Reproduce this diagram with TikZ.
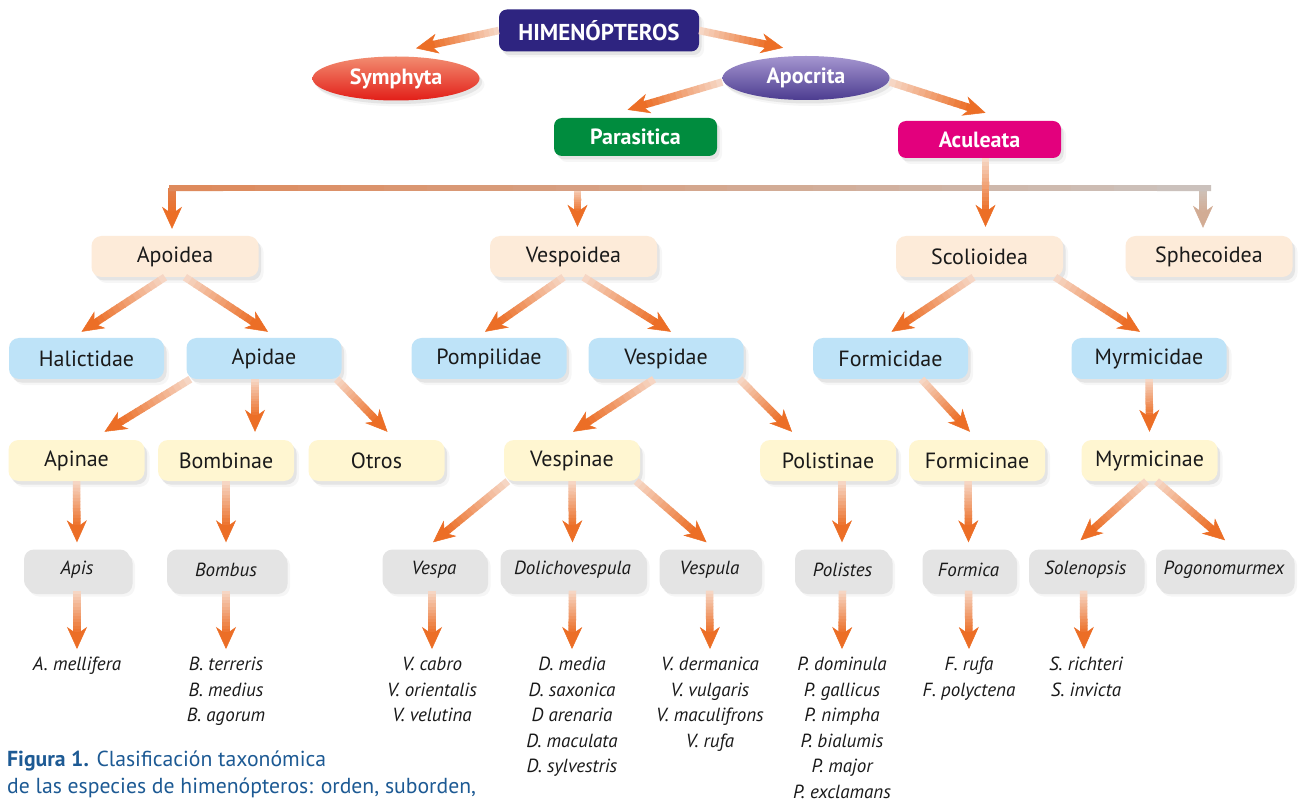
\documentclass[tikz,border=0pt]{standalone}
\usepackage{fontspec}
\setmainfont{PT Sans}
\usetikzlibrary{arrows.meta,calc,shadows,shapes.geometric}
\definecolor{txt}{RGB}{26,26,26}
\definecolor{navy}{RGB}{46,36,128}
\definecolor{symtop}{RGB}{242,140,112}
\definecolor{symbot}{RGB}{226,30,24}
\definecolor{apotop}{RGB}{165,150,208}
\definecolor{apobot}{RGB}{76,60,144}
\definecolor{paragreen}{RGB}{0,140,62}
\definecolor{aculmag}{RGB}{227,0,125}
\definecolor{cream}{RGB}{253,235,217}
\definecolor{lblue}{RGB}{190,227,248}
\definecolor{lyellow}{RGB}{255,246,209}
\definecolor{lgray}{RGB}{228,228,228}
\definecolor{arrlight}{RGB}{246,214,196}
\definecolor{arrorange}{RGB}{236,110,38}
\definecolor{barleft}{RGB}{222,138,92}
\definecolor{barright}{RGB}{203,193,188}
\definecolor{dropleft}{RGB}{226,128,76}
\definecolor{sphlight}{RGB}{206,194,186}
\definecolor{sphdark}{RGB}{210,172,148}
\definecolor{capblue}{RGB}{29,90,148}

\tikzset{
  sh/.style={drop shadow={shadow xshift=2.5pt,shadow yshift=-3.5pt,opacity=0.15},
             drop shadow={shadow xshift=5pt,shadow yshift=-6pt,opacity=0.07}},
  tbox/.style={sh, rounded corners=10pt, inner sep=0pt, minimum height=41pt, text=txt,
               font=\fontsize{22}{25}\selectfont},
  sfam/.style={tbox, fill=cream, minimum width=167pt},
  fam/.style={tbox, fill=lblue, minimum width=155pt},
  subfam/.style={tbox, fill=lyellow, minimum width=136pt},
  genus/.style={tbox, fill=lgray, font=\fontsize{19}{22}\selectfont\itshape},
  hdr/.style={sh, rounded corners=8pt, inner sep=0pt, text=white,
              font=\fontsize{22}{25}\selectfont\bfseries},
  ell/.style={sh, ellipse, inner sep=0pt, minimum width=167pt, minimum height=44pt,
              text=white, font=\fontsize{22}{25}\selectfont\bfseries},
  species/.style={inner sep=0pt, align=center, text=txt,
                  font=\fontsize{19}{25.5}\selectfont\itshape},
  caption/.style={inner sep=0pt, text=capblue, font=\fontsize{21.7}{27}\selectfont},
}

% gradient arrow: [start colour][end colour]{from}{to}
\NewDocumentCommand\garr{O{arrlight} O{arrorange} m m}{%
  \path #3 coordinate (ga-s);
  \path #4 coordinate (ga-e);
  \path ($(ga-e)!14pt!(ga-s)$) coordinate (ga-m);
  \foreach \i in {1,...,14}{%
    \pgfmathsetmacro\ga{(\i-1)/14}%
    \pgfmathsetmacro\gb{\i/14+0.01}%
    \pgfmathtruncatemacro\gm{round(100*(\i-1)/13)}%
    \draw[line width=7.5pt, #2!\gm!#1] ($(ga-s)!\ga!(ga-m)$) -- ($(ga-s)!\gb!(ga-m)$);
  }
  \draw[line width=0.5pt, #2, -{Stealth[length=22pt,width=20pt,inset=7pt]}] (ga-m) -- (ga-e);
}

\begin{document}
\begin{tikzpicture}[x=1pt,y=-1pt]
\useasboundingbox[fill=white] (0,0) rectangle (1299,802);

% ---------- top levels ----------
\node[hdr, fill=navy, minimum width=200pt, minimum height=42pt, font=\fontsize{23}{25}\selectfont\bfseries] (him) at (599,30.5) {HIMENÓPTEROS};
\node[ell, top color=symtop, bottom color=symbot] (sym) at (396,78.5) {Symphyta};
\node[ell, top color=apotop, bottom color=apobot] (apoc) at (806,78) {Apocrita};
\node[hdr, fill=paragreen, minimum width=163pt, minimum height=38pt] (para) at (635.5,137) {Parasitica};
\node[hdr, fill=aculmag, minimum width=163pt, minimum height=37pt] (acul) at (979.5,139.5) {Aculeata};

% ---------- superfamilies ----------
\node[sfam] (apoidea)   at (175,256.5)   {Apoidea};
\node[sfam] (vespoidea) at (573.5,256.5) {Vespoidea};
\node[sfam] (scolio)    at (979.5,256.5) {Scolioidea};
\node[sfam] (sphec)     at (1209,256.5)  {Sphecoidea};

% ---------- families ----------
\node[fam] (halic)      at (86.5,358.5) {Halictidae};
\node[fam] (apidae)     at (264,358.5)  {Apidae};
\node[fam] (pompil)     at (489,358.5)  {Pompilidae};
\node[fam] (vespidae)   at (666,358.5)  {Vespidae};
\node[fam] (formicidae) at (890.5,358.5){Formicidae};
\node[fam] (myrmicidae) at (1149,358.5) {Myrmicidae};

% ---------- subfamilies ----------
\node[subfam] (apinae)     at (76.5,460.5) {Apinae};
\node[subfam] (bombinae)   at (226,460.5)  {Bombinae};
\node[subfam] (otros)      at (376.5,460.5){Otros};
\node[subfam] (vespinae)   at (572,460.5)  {Vespinae};
\node[subfam] (polistinae) at (828,460.5)  {Polistinae};
\node[subfam] (formicinae) at (977,460.5)  {Formicinae};
\node[subfam] (myrmicinae) at (1149.5,460.5){Myrmicinae};

% ---------- genera ----------
\node[genus, minimum width=106pt] (apis)    at (77,570)    {Apis};
\node[genus, minimum width=118pt] (bombus)  at (226,570)   {Bombus};
\node[genus, minimum width=103pt] (vespa)   at (434,570)   {Vespa};
\node[genus, minimum width=144pt] (dolicho) at (572.5,570) {Dolichovespula};
\node[genus, minimum width=100pt] (vespula) at (709.5,570) {Vespula};
\node[genus, minimum width=95pt]  (polistes) at (842.5,570){Polistes};
\node[genus, minimum width=92pt]  (formica) at (968.5,570) {Formica};
\node[genus, minimum width=113pt] (solen)   at (1085.5,570){Solenopsis};
\node[genus, minimum width=136pt] (pogono)  at (1224,570)  {Pogonomurmex};

% ---------- species ----------
\node[species, anchor=north] (sp-apis)     at (77,657)   {A. mellifera};
\node[species, anchor=north] (sp-bombus)   at (226,657)  {B. terreris\\B. medius\\B. agorum};
\node[species, anchor=north] (sp-vespa)    at (432,657)  {V. cabro\\V. orientalis\\V. velutina};
\node[species, anchor=north] (sp-dolicho)  at (572,657)  {D. media\\D. saxonica\\D arenaria\\D. maculata\\D. sylvestris};
\node[species, anchor=north] (sp-vespula)  at (710,657)  {V. dermanica\\V. vulgaris\\V. maculifrons\\V. rufa};
\node[species, anchor=north] (sp-polistes) at (842,657)  {P. dominula\\P. gallicus\\P. nimpha\\P. bialumis\\P. major\\P. exclamans};
\node[species, anchor=north] (sp-formica)  at (969,657)  {F. rufa\\F. polyctena};
\node[species, anchor=north] (sp-solen)    at (1086,657) {S. richteri\\S. invicta};

% ---------- caption ----------
\node[caption, anchor=base west] (cap1) at (7,766) {\textbf{Figura 1.} Clasificación taxonómica};
\node[caption, anchor=base west] (cap2) at (7,793) {de las especies de himenópteros: orden, suborden,};

% ---------- connectors: top ----------
\garr{(him.west)}{([xshift=20pt,yshift=8pt]sym.north)}
\garr{(him.east)}{([xshift=-23pt,yshift=8pt]apoc.north)}
\garr{([yshift=-4pt]apoc.west)}{([xshift=-8pt,yshift=8pt]para.north)}
\garr{([yshift=-4pt]apoc.east)}{([xshift=6pt,yshift=8pt]acul.north)}

% ---------- Aculeata bar ----------
\coordinate (bar)  at ($([xshift=6pt]acul.south)+(0,30)$);
\coordinate (barL) at ($(apoidea.north |- bar)+(-3,0)$);
\coordinate (barV) at ($(vespoidea.north |- bar)+(4,0)$);
\coordinate (barR) at ($(sphec.north |- bar)+(-6,0)$);
\garr[dropleft][arrorange]{(barL)}{([xshift=-3pt,yshift=7pt]apoidea.north)}
\garr{(barV)}{([xshift=4pt,yshift=9pt]vespoidea.north)}
\garr[sphlight][sphdark]{(barR)}{([xshift=-6pt,yshift=8pt]sphec.north)}
\foreach \i in {1,...,24}{%
  \pgfmathsetmacro\ga{(\i-1)/24}%
  \pgfmathsetmacro\gb{\i/24+0.005}%
  \pgfmathtruncatemacro\gm{round(100*(\i-1)/23)}%
  \draw[line width=6pt, line cap=rect, barright!\gm!barleft] ($(barL)!\ga!(barR)$) -- ($(barL)!\gb!(barR)$);
}
\garr{([xshift=6pt]acul.south)}{([xshift=6pt,yshift=9pt]scolio.north)}

% ---------- superfamily -> family ----------
\garr{([xshift=-10pt]apoidea.south)}{([xshift=-5pt,yshift=6pt]halic.north)}
\garr{([xshift=10pt]apoidea.south)}{([xshift=4pt,yshift=6pt]apidae.north)}
\garr{([xshift=-10pt]vespoidea.south)}{([xshift=-4pt,yshift=6pt]pompil.north)}
\garr{([xshift=10pt]vespoidea.south)}{([xshift=5pt,yshift=6pt]vespidae.north)}
\garr{([xshift=-6pt]scolio.south)}{([xshift=1pt,yshift=6pt]formicidae.north)}
\garr{([xshift=-8pt]scolio.south east)}{([xshift=-9pt,yshift=6pt]myrmicidae.north)}

% ---------- family -> subfamily ----------
\garr{([xshift=4pt]apidae.south west)}{([xshift=28pt,yshift=8pt]apinae.north)}
\garr{([xshift=-9pt]apidae.south)}{([xshift=29pt,yshift=8pt]bombinae.north)}
\garr{([xshift=-5pt]apidae.south east)}{([xshift=11pt,yshift=8pt]otros.north)}
\garr{([xshift=-12pt]vespidae.south)}{([xshift=1pt,yshift=8pt]vespinae.north)}
\garr{([xshift=-4pt]vespidae.south east)}{([xshift=-36pt,yshift=8pt]polistinae.north)}
\garr{([xshift=31pt]formicidae.south)}{([xshift=-7pt,yshift=8pt]formicinae.north)}
\garr{(myrmicidae.south)}{([yshift=8pt]myrmicinae.north)}

% ---------- subfamily -> genus ----------
\garr{(apinae.south)}{([yshift=7pt]apis.north)}
\garr{(bombinae.south)}{([yshift=7pt]bombus.north)}
\garr{([xshift=4pt]vespinae.south west)}{([xshift=-1pt,yshift=7pt]vespa.north)}
\garr{(vespinae.south)}{([yshift=7pt]dolicho.north)}
\garr{([xshift=-4pt]vespinae.south east)}{([xshift=-3pt,yshift=7pt]vespula.north)}
\garr{([xshift=14pt]polistinae.south)}{([xshift=-0.5pt,yshift=7pt]polistes.north)}
\garr{([xshift=-9pt]formicinae.south)}{([yshift=7pt]formica.north)}
\garr{([xshift=-3pt]myrmicinae.south)}{([xshift=-5pt,yshift=9pt]solen.north)}
\garr{([xshift=7pt]myrmicinae.south)}{([xshift=1pt,yshift=9pt]pogono.north)}

% ---------- genus -> species ----------
\garr{(apis.south)}{([yshift=8pt]sp-apis.north)}
\garr{(bombus.south)}{([yshift=8pt]sp-bombus.north)}
\garr{([xshift=-2pt]vespa.south)}{([yshift=8pt]sp-vespa.north)}
\garr{(dolicho.south)}{([yshift=8pt]sp-dolicho.north)}
\garr{(vespula.south)}{([yshift=8pt]sp-vespula.north)}
\garr{(polistes.south)}{([yshift=8pt]sp-polistes.north)}
\garr{(formica.south)}{([yshift=8pt]sp-formica.north)}
\garr{([xshift=-2pt]solen.south)}{([xshift=-2pt,yshift=8pt]sp-solen.north)}
\end{tikzpicture}
\end{document}
